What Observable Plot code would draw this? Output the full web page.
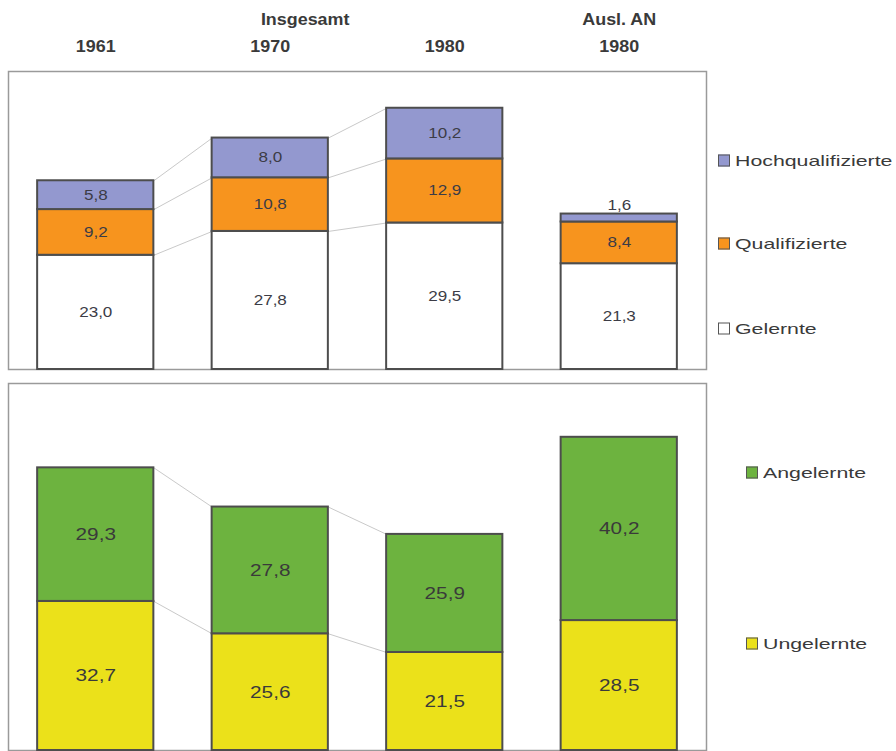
<!DOCTYPE html>
<html><head><meta charset="utf-8">
<script src="https://cdn.jsdelivr.net/npm/d3@7"></script>
<script src="https://cdn.jsdelivr.net/npm/@observablehq/plot@0.6"></script>
<style>
body{margin:0;background:#fff;font-family:"Liberation Sans",Arial,sans-serif;}
#wrap{position:relative;width:896px;height:751px;overflow:hidden;}
.plot{position:absolute;left:0;}
.leg{position:absolute;display:flex;align-items:center;font-size:15px;color:#3a3a3a;white-space:nowrap;transform:translateY(-50%);}
.sw{width:10px;height:10px;border:1px solid #555;margin-right:5px;flex:none;}
.lt{display:inline-block;transform:scaleX(1.42);transform-origin:left center;}
</style></head><body><div id="wrap"></div>
<script>
// ---- data ----
const categories = ["1961", "1970", "1980", "Ausl. AN 1980"];
const yearLabels = ["1961", "1970", "1980", "1980"];
const groupLabels = ["Insgesamt", "Ausl. AN"];
const groupIndex = [1, 3];

const topSeries = ["Gelernte", "Qualifizierte", "Hochqualifizierte"];
const gelernte = [23.0, 27.8, 29.5, 21.3];
const qualifizierte = [9.2, 10.8, 12.9, 8.4];
const hochqualifizierte = [5.8, 8.0, 10.2, 1.6];

const bottomSeries = ["Ungelernte", "Angelernte"];
const ungelernte = [32.7, 25.6, 21.5, 28.5];
const angelernte = [29.3, 27.8, 25.9, 40.2];

// ---- styles ----
const topColors = ["#ffffff", "#f7941e", "#9398cf"];
const bottomColors = ["#ebe11a", "#6db33f"];
const HW = 0.333; // half bar width in band units
const fmt = v => d3.format(".1f")(v).replace(".", ",");

function stack(names, arrays) {
  const rows = [];
  categories.forEach((c, i) => {
    let acc = 0;
    names.forEach((s, k) => {
      const v = arrays[k][i];
      rows.push({i, cat: c, series: s, value: v, y1: acc, y2: acc + v});
      acc += v;
    });
  });
  return rows;
}
function links(rows, names) {
  const out = [];
  names.forEach(s => {
    for (let i = 0; i < 2; i++) {
      const a = rows.find(r => r.series === s && r.i === i);
      const b = rows.find(r => r.series === s && r.i === i + 1);
      out.push({x1: i + HW, x2: i + 1 - HW, y1: a.y2, y2: b.y2});
    }
  });
  return out;
}
function stretchText(svg, kNormal, kBold) {
  svg.querySelectorAll('g[aria-label="text"]').forEach(g => {
    const k = g.getAttribute("font-weight") === "bold" ? kBold : kNormal;
    g.querySelectorAll("text").forEach(t => {
      const tr = t.getAttribute("transform") || "";
      t.setAttribute("transform", tr + ` scale(${k},1)`);
    });
  });
}

const topRows = stack(topSeries, [gelernte, qualifizierte, hochqualifizierte]);
const botRows = stack(bottomSeries, [ungelernte, angelernte]);

const wrap = document.getElementById("wrap");

const topPlot = Plot.plot({
  width: 712, height: 375,
  marginTop: 71, marginBottom: 6, marginLeft: 8, marginRight: 6,
  x: {type: "linear", domain: [-0.5, 3.5], axis: null},
  y: {domain: [0, 60], axis: null},
  color: {domain: topSeries, range: topColors},
  style: {fontFamily: "'Liberation Sans', Arial, sans-serif", background: "transparent"},
  marks: [
    Plot.frame({stroke: "#9a9a9a", strokeWidth: 1.5}),
    Plot.link(links(topRows, topSeries), {x1: "x1", y1: "y1", x2: "x2", y2: "y2", stroke: "#c9c9c9", strokeWidth: 1}),
    Plot.rectY(topRows, {x1: d => d.i - HW, x2: d => d.i + HW, y1: "y1", y2: "y2", fill: "series", stroke: "#4d4d4d", strokeWidth: 2}),
    Plot.text(topRows.filter(d => d.value >= 3), {x: "i", y: d => (d.y1 + d.y2) / 2, text: d => fmt(d.value), fontSize: 14, fill: "#3c3c46"}),
    Plot.text(topRows.filter(d => d.value < 3), {x: "i", y: "y2", text: d => fmt(d.value), fontSize: 14, fill: "#3c3c46", dy: -9}),
    Plot.text(yearLabels, {x: (d, i) => i, frameAnchor: "top", text: d => d, dy: -31, fontSize: 16, fontWeight: "bold", fill: "#3a3a3a"}),
    Plot.text(groupLabels, {x: (d, i) => groupIndex[i] + (i === 0 ? 0.2 : 0), frameAnchor: "top", text: d => d, dy: -58, fontSize: 16, fontWeight: "bold", fill: "#3a3a3a"})
  ]
});
topPlot.classList.add("plot");
topPlot.style.top = "0px";
wrap.appendChild(topPlot);

const botPlot = Plot.plot({
  width: 712, height: 376,
  marginTop: 8, marginBottom: 1, marginLeft: 8, marginRight: 6,
  x: {type: "linear", domain: [-0.5, 3.5], axis: null},
  y: {domain: [0, 80.5], axis: null},
  color: {domain: bottomSeries, range: bottomColors},
  style: {fontFamily: "'Liberation Sans', Arial, sans-serif", background: "transparent"},
  marks: [
    Plot.frame({stroke: "#9a9a9a", strokeWidth: 1.5}),
    Plot.link(links(botRows, bottomSeries), {x1: "x1", y1: "y1", x2: "x2", y2: "y2", stroke: "#c9c9c9", strokeWidth: 1}),
    Plot.rectY(botRows, {x1: d => d.i - HW, x2: d => d.i + HW, y1: "y1", y2: "y2", fill: "series", stroke: "#4d4d4d", strokeWidth: 2}),
    Plot.text(botRows, {x: "i", y: d => (d.y1 + d.y2) / 2, text: d => fmt(d.value), fontSize: 17, fill: "#3a3a3a"})
  ]
});
botPlot.classList.add("plot");
botPlot.style.top = "375px";
wrap.appendChild(botPlot);

stretchText(topPlot, 1.22, 1.12);
stretchText(botPlot, 1.22, 1.12);

// ---- legends ----
function legend(name, color, x, y) {
  const d = document.createElement("div");
  d.className = "leg";
  d.style.left = x + "px";
  d.style.top = y + "px";
  const s = document.createElement("span");
  s.className = "sw";
  s.style.background = color;
  d.appendChild(s);
  const t = document.createElement("span");
  t.className = "lt";
  t.textContent = name;
  d.appendChild(t);
  wrap.appendChild(d);
}
const topLegendY = [328, 243, 160];
topSeries.forEach((s, k) => legend(s, topColors[k], 718, topLegendY[k]));
const botLegendY = [643, 472];
bottomSeries.forEach((s, k) => legend(s, bottomColors[k], 746, botLegendY[k]));
</script>
</body></html>
